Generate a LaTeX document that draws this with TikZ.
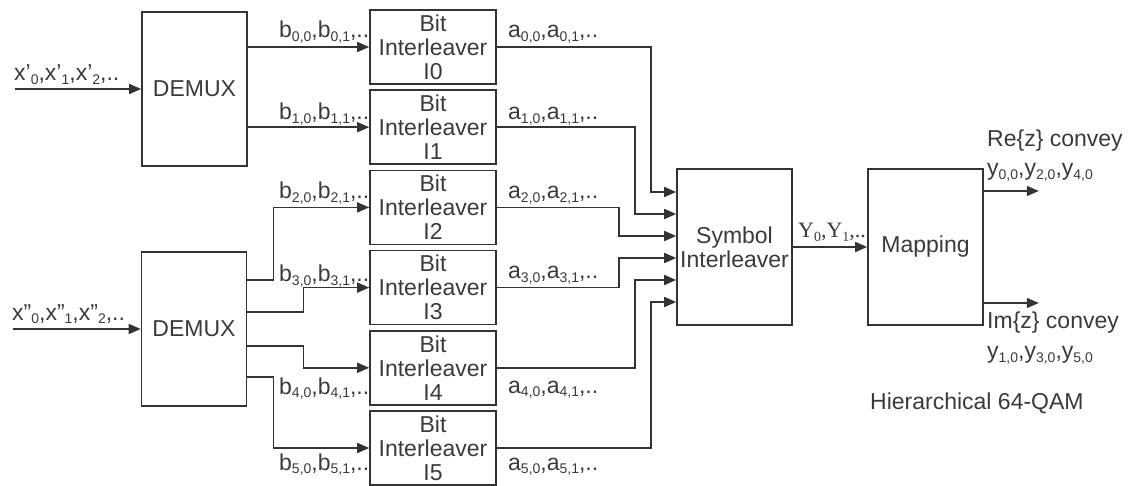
\documentclass[tikz,border=0pt]{standalone}
\usepackage{fontspec}
\setmainfont{Liberation Sans}
\newfontfamily\seriffont{Liberation Serif}
\usetikzlibrary{arrows.meta,calc}
\definecolor{linec}{HTML}{333333}
\definecolor{txtc}{HTML}{3A3A3A}
\newcommand\sbs[1]{\raisebox{-0.3ex}{\fontsize{14}{14}\selectfont #1}}
\begin{document}
\begin{tikzpicture}[x=1pt,y=-1pt,
  font=\fontsize{23}{24}\selectfont,
  box/.style={draw=linec, line width=1.6pt, inner sep=0pt, align=center, text=txtc},
  bitbox/.style={box, minimum width=126pt, minimum height=74pt},
  bigbox/.style={box, minimum width=115pt, minimum height=156pt},
  demux/.style={box, minimum width=105pt, minimum height=154pt},
  arr/.style={draw=linec, line width=1.6pt, -{Triangle[length=12pt,width=10pt]}},
  lbl/.style={anchor=base west, inner sep=0pt, text=txtc}]
\useasboundingbox (0,0) rectangle (1130,486);

% blocks
\node[demux] (d1) at (194.5,89) {DEMUX};
\node[demux] (d2) at (194,329) {DEMUX};
\node[bitbox] (i0) at (433,47) {Bit\\Interleaver\\I0};
\node[bitbox] (i1) at (433,127.2) {Bit\\Interleaver\\I1};
\node[bitbox] (i2) at (433,207.4) {Bit\\Interleaver\\I2};
\node[bitbox] (i3) at (433,287.6) {Bit\\Interleaver\\I3};
\node[bitbox] (i4) at (433,367.8) {Bit\\Interleaver\\I4};
\node[bitbox] (i5) at (433,448) {Bit\\Interleaver\\I5};
\node[bigbox] (s) at (734.5,247) {Symbol\\Interleaver};
\node[bigbox] (m) at (925.5,247) {Mapping};

% inputs
\coordinate (in1) at (15,89);
\coordinate (in2) at (13,329);
\draw[arr] (in1) -- (d1.west);
\draw[arr] (in2) -- (d2.west);

% demux outputs
\draw[arr] (d1.east |- i0.west) -- (i0.west);
\draw[arr] (d1.east |- i1.west) -- (i1.west);
\draw[arr] ([yshift=49pt]d2.east) -- ++(26,0) |- (i2.west);
\draw[arr] ([yshift=17pt]d2.east) -- ++(56,0) |- (i3.west);
\draw[arr] ([yshift=-17pt]d2.east) -- ++(56,0) |- (i4.west);
\draw[arr] ([yshift=-48pt]d2.east) -- ++(26,0) |- (i5.west);

% interleaver outputs
\draw[arr] (i0.east) -- ++(154,0) |- ([yshift=55pt]s.west);
\draw[arr] (i1.east) -- ++(138,0) |- ([yshift=33pt]s.west);
\draw[arr] (i2.east) -- ++(122,0) |- ([yshift=11pt]s.west);
\draw[arr] (i3.east) -- ++(122,0) |- ([yshift=-11pt]s.west);
\draw[arr] (i4.east) -- ++(138,0) |- ([yshift=-33pt]s.west);
\draw[arr] (i5.east) -- ++(154,0) |- ([yshift=-55pt]s.west);

\draw[arr] (s.east) -- (m.west);
\draw[arr] ([yshift=56pt]m.east) -- ++(55,0) coordinate (re);
\draw[arr] ([yshift=-56pt]m.east) -- ++(55,0) coordinate (im);

% labels
\node[lbl] (lx1) at (14,81) {x'\sbs{0},x'\sbs{1},x'\sbs{2},..};
\node[lbl] (lx2) at (12,320) {x''\sbs{0},x''\sbs{1},x''\sbs{2},..};
\node[lbl] (lb0) at (279,38) {b\sbs{0,0},b\sbs{0,1},..};
\node[lbl] (lb1) at (279,120) {b\sbs{1,0},b\sbs{1,1},..};
\node[lbl] (lb2) at (279,199) {b\sbs{2,0},b\sbs{2,1},..};
\node[lbl] (lb3) at (279,282) {b\sbs{3,0},b\sbs{3,1},..};
\node[lbl] (lb4) at (279,394) {b\sbs{4,0},b\sbs{4,1},..};
\node[lbl] (lb5) at (279,470) {b\sbs{5,0},b\sbs{5,1},..};
\node[lbl] (la0) at (508,38) {a\sbs{0,0},a\sbs{0,1},..};
\node[lbl] (la1) at (508,120) {a\sbs{1,0},a\sbs{1,1},..};
\node[lbl] (la2) at (508,199) {a\sbs{2,0},a\sbs{2,1},..};
\node[lbl] (la3) at (508,279) {a\sbs{3,0},a\sbs{3,1},..};
\node[lbl] (la4) at (508,393) {a\sbs{4,0},a\sbs{4,1},..};
\node[lbl] (la5) at (508,470) {a\sbs{5,0},a\sbs{5,1},..};
\node[lbl,font=\seriffont\fontsize{22}{24}\selectfont] (ly) at (798,238) {Y\sbs{0},Y\sbs{1},..};
\node[lbl] (lre) at (987,147) {Re\{z\} convey};
\node[lbl] (lre2) at (987,176) {y\sbs{0,0},y\sbs{2,0},y\sbs{4,0}};
\node[lbl] (lim) at (987,329) {Im\{z\} convey};
\node[lbl] (lim2) at (987,359) {y\sbs{1,0},y\sbs{3,0},y\sbs{5,0}};
\node[lbl] (lh) at (870,409) {Hierarchical 64-QAM};
\end{tikzpicture}
\end{document}
